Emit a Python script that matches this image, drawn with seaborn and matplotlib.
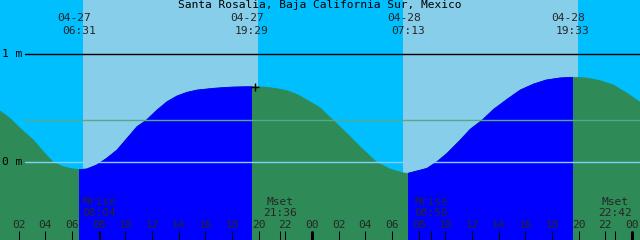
import matplotlib
matplotlib.use("Agg")
import matplotlib.pyplot as plt
import matplotlib.transforms as mtransforms
from matplotlib.patches import Rectangle
import pandas as pd
import seaborn as sns

# ---------------- data ----------------
title = "Santa Rosalia, Baja California Sur, Mexico"

# hours since 04-27 00:00 and tide height in metres
tide_hours = [0.60, 1.35, 2.10, 3.10, 3.85, 4.60, 5.35, 6.10, 6.60, 7.10,
              7.85, 8.60, 9.38, 10.13, 10.88, 11.57, 12.38, 13.13, 13.88, 14.63,
              15.38, 16.63, 17.40, 18.15, 18.90, 19.50, 20.40, 21.00, 21.65, 22.20,
              22.65, 23.10, 23.40, 24.00, 24.60, 25.57,
              26.60, 27.60, 28.85, 29.85, 30.85, 31.20, 31.85, 32.63, 33.38, 34.13,
              35.12, 35.87, 36.75, 37.63, 38.63, 39.62, 40.63, 41.57, 42.60, 43.58,
              44.57, 45.60, 46.58, 47.57, 48.60]
tide_heights = [0.475, 0.407, 0.315, 0.206, 0.098, 0.000, -0.041, -0.062, -0.067, -0.062,
                -0.025, 0.037, 0.114, 0.222, 0.330, 0.389, 0.484, 0.561, 0.614, 0.648,
                0.669, 0.685, 0.692, 0.697, 0.699, 0.700, 0.697, 0.688, 0.676, 0.660,
                0.639, 0.614, 0.593, 0.549, 0.506, 0.389,
                0.269, 0.144, 0.000, -0.062, -0.099, -0.102, -0.081, -0.056, 0.006, 0.083,
                0.206, 0.306, 0.389, 0.491, 0.583, 0.669, 0.725, 0.762, 0.781, 0.787,
                0.781, 0.756, 0.716, 0.644, 0.556]

sun_times = [6.517, 19.483, 31.217, 43.55]
sun_dates = ["04-27", "04-27", "04-28", "04-28"]
sun_labels = ["06:31", "19:29", "07:13", "19:33"]

day_tide_start = [6.517, 31.217]
day_tide_end = [19.483, 43.55]
sky_day_start = [6.83, 30.83]
sky_day_end = [19.95, 43.95]

moon_times = [8.067, 21.6, 32.933, 46.7]
moon_names = ["Mrise", "Mset", "Mrise", "Mset"]
moon_labels = ["08:04", "21:36", "08:56", "22:42"]

hour_ticks = list(range(2, 49, 2))
hour_labels = ["%02d" % (h % 24) for h in hour_ticks]
midnights = [24, 48]

level_values = [1.0, 0.389, 0.0]
level_labels = ["1 m", "", "0 m"]

marker_time = [19.75]
marker_height = [0.70]

# ---------------- style ----------------
SKY_NIGHT = "#00bfff"
SKY_DAY = "#87ceeb"
TIDE_NIGHT = "#2e8b57"
TIDE_DAY = "#0000ff"
LEVEL_COLORS = ["#000000", "#55a98a", "#87cefa"]
FONT = "DejaVu Sans Mono"
FS = 8.1

sns.set_theme(style="white")
plt.rcParams["font.family"] = [FONT, "DejaVu Sans"]

XMIN, XMAX = 0.6, 48.6
YMIN, YMAX = -0.719, 1.503

fig = plt.figure(figsize=(6.4, 2.4), dpi=100)
ax = fig.add_axes([0, 0, 1, 1])
ax.set_xlim(XMIN, XMAX)
ax.set_ylim(YMIN, YMAX)
ax.set_facecolor(SKY_NIGHT)
ax.axis("off")
fig.patch.set_facecolor(SKY_NIGHT)
ax.add_patch(Rectangle((0, 0), 1, 1, transform=ax.transAxes, color=SKY_NIGHT, zorder=0))

for s, e in zip(sky_day_start, sky_day_end):
    ax.axvspan(s, e, color=SKY_DAY, lw=0, zorder=1)

df = pd.DataFrame({"hour": tide_hours, "height": tide_heights})

ax.fill_between(df["hour"], df["height"], YMIN - 1, color=TIDE_NIGHT, lw=0, zorder=2)
sns.lineplot(data=df, x="hour", y="height", ax=ax, color=TIDE_NIGHT, lw=0.6, zorder=2)
for s, e in zip(day_tide_start, day_tide_end):
    clip = Rectangle((s, YMIN - 1), e - s, 5, transform=ax.transData)
    poly = ax.fill_between(df["hour"], df["height"], YMIN - 1, color=TIDE_DAY, lw=0, zorder=3)
    poly.set_clip_path(clip)
    n = len(ax.lines)
    sns.lineplot(data=df, x="hour", y="height", ax=ax, color=TIDE_DAY, lw=0.6, zorder=3)
    for ln in ax.lines[n:]:
        ln.set_clip_path(Rectangle((s, YMIN - 1), e - s, 5, transform=ax.transData))

# level lines
x_start = 25 / 640
for v, c in zip(level_values, LEVEL_COLORS):
    ax.axhline(v, xmin=x_start, xmax=1, color=c, lw=1.0, zorder=4)
for v, lab in zip(level_values, level_labels):
    if lab:
        ax.text(XMIN + 2 / 640 * (XMAX - XMIN), v, lab, ha="left", va="center",
                fontsize=FS, color="black", zorder=5)

# "+" marker
sns.scatterplot(x=marker_time, y=marker_height, ax=ax, marker="+", s=40,
                color="black", linewidth=1.0, zorder=6)

tr = mtransforms.blended_transform_factory(ax.transData, ax.transAxes)

# title
ax.text(0.5, 1 - 5.5 / 240, title, transform=ax.transAxes, ha="center", va="center",
        fontsize=FS, color="black", zorder=6)

# sun labels
for t, d, lab in zip(sun_times, sun_dates, sun_labels):
    ax.annotate(d, xy=(t, 1 - 17.8 / 240), xycoords=tr, xytext=(-4.5, 0),
                textcoords="offset pixels", ha="center", va="center", fontsize=FS, zorder=6)
    ax.text(t, 1 - 30.5 / 240, lab, transform=tr, ha="center", va="center", fontsize=FS, zorder=6)

# moon labels
for t, n_, lab in zip(moon_times, moon_names, moon_labels):
    ax.text(t, 1 - 202 / 240, n_, transform=tr, ha="center", va="center", fontsize=FS, zorder=6)
    ax.text(t, 1 - 213.5 / 240, lab, transform=tr, ha="center", va="center", fontsize=FS, zorder=6)

# ticks
tick_top = 9.5 / 240
ax.vlines(hour_ticks, 0, tick_top, transform=tr, color="black", lw=0.75, zorder=6)
ax.vlines(moon_times, 0, tick_top, transform=tr, color="black", lw=0.75, zorder=6)
ax.vlines(midnights, 0, tick_top, transform=tr, color="black", lw=2.2, zorder=6)
for t, lab in zip(hour_ticks, hour_labels):
    ax.text(t, 1 - 225 / 240, lab, transform=tr, ha="center", va="center", fontsize=FS, zorder=6)

fig.savefig("out.png", dpi=100, facecolor=fig.get_facecolor())
